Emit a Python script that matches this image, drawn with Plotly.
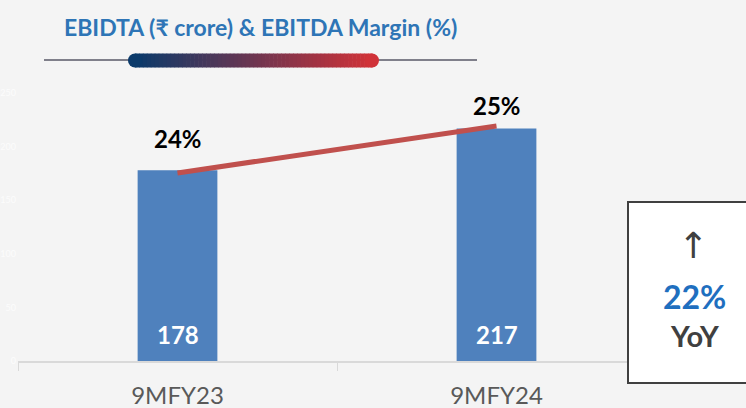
import plotly.graph_objects as go

# data
periods = ["9MFY23", "9MFY24"]
ebitda = [178, 217]
margin = [24, 25]
yoy_growth = "22%"
y_ticks = [0, 50, 100, 150, 200, 250]

W, H = 746, 408
L, R, T, B = 18, 90, 93, 47


def px_x(x):
    return (x - L) / (W - L - R)


def px_y(y):
    return (H - B - y) / (H - T - B)


fig = go.Figure()

fig.add_trace(go.Bar(
    x=periods,
    y=ebitda,
    width=0.25,
    marker=dict(color="#4F81BD", line=dict(width=0)),
    showlegend=False,
    hoverinfo="skip",
))

fig.add_trace(go.Scatter(
    x=periods,
    y=margin,
    yaxis="y2",
    mode="lines",
    line=dict(color="#C0504D", width=5),
    showlegend=False,
    hoverinfo="skip",
))

# gradient bar under the title (decoration)
shapes = [dict(type="line", xref="paper", yref="paper",
               x0=px_x(44), x1=px_x(477), y0=px_y(60), y1=px_y(60),
               line=dict(color="#7F7F8A", width=2))]
c0, c1 = (11, 58, 106), (208, 50, 56)
gx0, gx1 = 135, 372
n = 60
for i in range(n):
    t = i / (n - 1)
    col = "rgb({},{},{})".format(*[int(a + (b - a) * t) for a, b in zip(c0, c1)])
    xa = gx0 + (gx1 - gx0) * i / n
    xb = gx0 + (gx1 - gx0) * (i + 1) / n + 0.6
    shapes.append(dict(type="rect", xref="paper", yref="paper",
                       x0=px_x(xa), x1=px_x(xb), y0=px_y(67.5), y1=px_y(53.5),
                       fillcolor=col, line=dict(width=0)))
for cx, col in [(gx0, c0), (gx1, c1)]:
    shapes.append(dict(type="circle", xref="paper", yref="paper",
                       x0=px_x(cx - 7), x1=px_x(cx + 7), y0=px_y(67.5), y1=px_y(53.5),
                       fillcolor="rgb({},{},{})".format(*col), line=dict(width=0)))

# YoY box
shapes.append(dict(type="rect", xref="paper", yref="paper",
                   x0=px_x(628), x1=px_x(760), y0=px_y(383), y1=px_y(202),
                   fillcolor="white", line=dict(color="#404040", width=2)))

annotations = [
    dict(text="EBIDTA (₹ crore) & EBITDA Margin (%)", xref="paper", yref="paper",
         x=px_x(260), y=px_y(27), xanchor="center", yanchor="middle", showarrow=False,
         font=dict(family="Lato", size=23, color="#2E75B6", weight="bold")),
    dict(text="↑", xref="paper", yref="paper", x=px_x(693), y=px_y(245),
         xanchor="center", yanchor="middle",
         showarrow=False, font=dict(family="DejaVu Sans", size=36, color="#404040")),
    dict(text=yoy_growth, xref="paper", yref="paper", x=px_x(694), y=px_y(296),
         xanchor="center", yanchor="middle",
         showarrow=False, font=dict(family="Lato", size=32, color="#1F6FBF", weight="bold")),
    dict(text="YoY", xref="paper", yref="paper", x=px_x(694), y=px_y(335),
         xanchor="center", yanchor="middle",
         showarrow=False, font=dict(family="Lato", size=29, color="#404040", weight="bold")),
]

# bar value labels near the base
for p, v in zip(periods, ebitda):
    annotations.append(dict(text=str(v), x=p, y=0, xref="x", yref="y", yshift=27,
                            xanchor="center", yanchor="middle", showarrow=False,
                            font=dict(family="Lato", size=24, color="white", weight="bold")))

# margin labels above the line
label_shift = [34, 20]
for p, m, s in zip(periods, margin, label_shift):
    annotations.append(dict(text=f"{m}%", x=p, y=m, xref="x", yref="y2", yshift=s,
                            xanchor="center", yanchor="middle", showarrow=False,
                            font=dict(family="Lato", size=24, color="black", weight="bold")))

fig.update_layout(
    width=W, height=H,
    margin=dict(l=L, r=R, t=T, b=B, autoexpand=False),
    paper_bgcolor="#F4F4F4",
    plot_bgcolor="rgba(0,0,0,0)",
    xaxis=dict(
        showline=True, linecolor="#D9D9D9", linewidth=1.5,
        ticks="outside", tickson="boundaries", ticklen=8, tickcolor="#D9D9D9",
        tickfont=dict(family="Lato", size=24, color="#595959"),
        ticklabelstandoff=12,
        showgrid=False, automargin=False,
    ),
    yaxis=dict(
        range=[0, 250], tickvals=y_ticks, showgrid=False, zeroline=False,
        tickfont=dict(family="Lato", size=9, color="#FCFCFC"), automargin=False,
        ticklabelstandoff=1,
    ),
    yaxis2=dict(
        range=[20, 25.7], overlaying="y", visible=False,
    ),
    shapes=shapes,
    annotations=annotations,
)

fig.write_html("out.html", config={"displayModeBar": False},
               post_script="document.body.style.margin='0';")
